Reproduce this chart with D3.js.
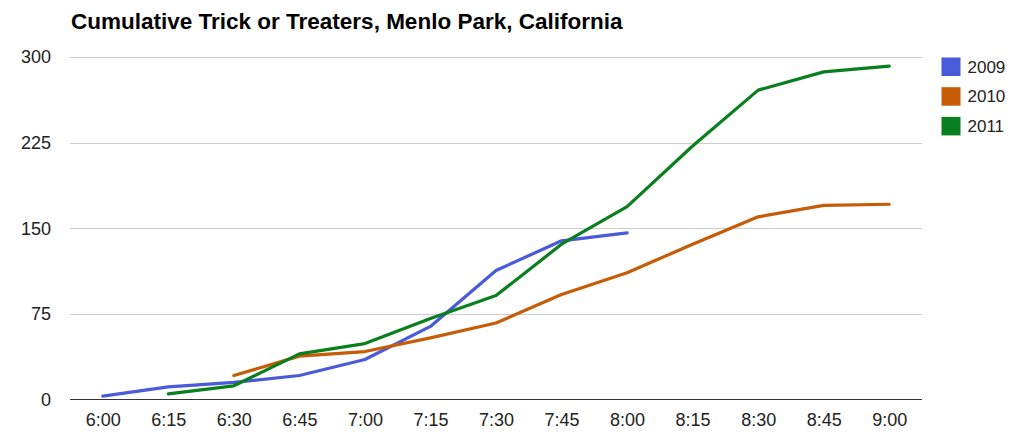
<!DOCTYPE html>
<html>
<head>
<meta charset="utf-8">
<script src="https://cdn.jsdelivr.net/npm/d3@7"></script>
<style>
  body { margin: 0; background: #fff; }
  svg { display: block; font-family: Arial, "Liberation Sans", sans-serif; }
</style>
</head>
<body>
<div id="chart"></div>
<script>
const times = ["6:00", "6:15", "6:30", "6:45", "7:00", "7:15", "7:30",
	"7:45", "8:00", "8:15", "8:30", "8:45", "9:00"];
const years = ["2009", "2010", "2011"];
const colors = ["#4a5bd9", "#c65c06", "#0a7f1f"];
// null = no reading for that time
const v2009 = [3, 11, 15, 21, 35, 64, 113, 139, 146, null, null, null, null];
const v2010 = [null, null, 21, 38, 42, 54, 67, 92, 111, 136, 160, 170, 171];
const v2011 = [null, 5, 12, 40, 49, 71, 91, 136, 169, 222, 271, 287, 292];
const yTicks = [0, 75, 150, 225, 300];

const FW = 1024, FH = 441;
const MARGIN = { LEFT: 70, RIGHT: 102, TOP: 57, BOTTOM: 41.5 };
const WIDTH = FW - MARGIN.LEFT - MARGIN.RIGHT;
const HEIGHT = FH - MARGIN.TOP - MARGIN.BOTTOM;

const svg = d3.select("#chart").append("svg")
	.attr("width", FW)
	.attr("height", FH);

svg.append("text")
	.attr("x", 71)
	.attr("y", 28.5)
	.style("font-size", "22.5px")
	.style("font-weight", "bold")
	.attr("fill", "#000")
	.text("Cumulative Trick or Treaters, Menlo Park, California");

const g = svg.append("g")
	.attr("transform", `translate(${MARGIN.LEFT}, ${MARGIN.TOP})`);

const x = d3.scalePoint().domain(times).range([0, WIDTH]).padding(0.5);
const y = d3.scaleLinear().domain([0, 300]).range([HEIGHT, 0]);

// gridlines
g.append("g")
	.selectAll("line")
	.data(yTicks.filter((d) => d > 0))
	.enter()
	.append("line")
	.attr("x1", 0)
	.attr("x2", WIDTH)
	.attr("y1", (d) => Math.round(y(d)) + 0.5)
	.attr("y2", (d) => Math.round(y(d)) + 0.5)
	.attr("stroke", "#cccccc")
	.attr("stroke-width", 1);

// y labels
const yAxis = g.append("g")
	.call(d3.axisLeft(y).tickValues(yTicks).tickSize(0).tickPadding(19));
yAxis.select(".domain").remove();
yAxis.selectAll("text")
	.style("font-size", "18px")
	.style("font-family", "Arial, 'Liberation Sans', sans-serif")
	.attr("fill", "#222");

// x labels
const xAxis = g.append("g")
	.attr("transform", `translate(0, ${HEIGHT})`)
	.call(d3.axisBottom(x).tickSize(0).tickPadding(14));
xAxis.select(".domain").remove();
xAxis.selectAll("text")
	.style("font-size", "18px")
	.style("font-family", "Arial, 'Liberation Sans', sans-serif")
	.attr("fill", "#222");

const line = d3.line()
	.defined((d) => d != null)
	.x((d, i) => x(times[i]))
	.y((d) => y(d));

const series = [v2009, v2010, v2011];
g.append("g")
	.selectAll("path")
	.data(series)
	.enter()
	.append("path")
	.attr("d", line)
	.attr("fill", "none")
	.attr("stroke", (d, i) => colors[i])
	.attr("stroke-width", 3.2)
	.attr("stroke-linejoin", "round")
	.attr("stroke-linecap", "round");

// baseline
g.append("line")
	.attr("x1", 0)
	.attr("x2", WIDTH)
	.attr("y1", HEIGHT)
	.attr("y2", HEIGHT)
	.attr("stroke", "#333")
	.attr("stroke-width", 1.2);

// legend
const legend = svg.append("g")
	.attr("transform", "translate(941.5, 57.5)");
const items = legend.selectAll("g")
	.data(years)
	.enter()
	.append("g")
	.attr("transform", (d, i) => `translate(0, ${i * 29.7})`);
items.append("rect")
	.attr("width", 19)
	.attr("height", 18.5)
	.attr("fill", (d, i) => colors[i]);
items.append("text")
	.attr("x", 26)
	.attr("y", 15)
	.style("font-size", "17px")
	.attr("fill", "#222")
	.text((d) => d);
</script>
</body>
</html>
